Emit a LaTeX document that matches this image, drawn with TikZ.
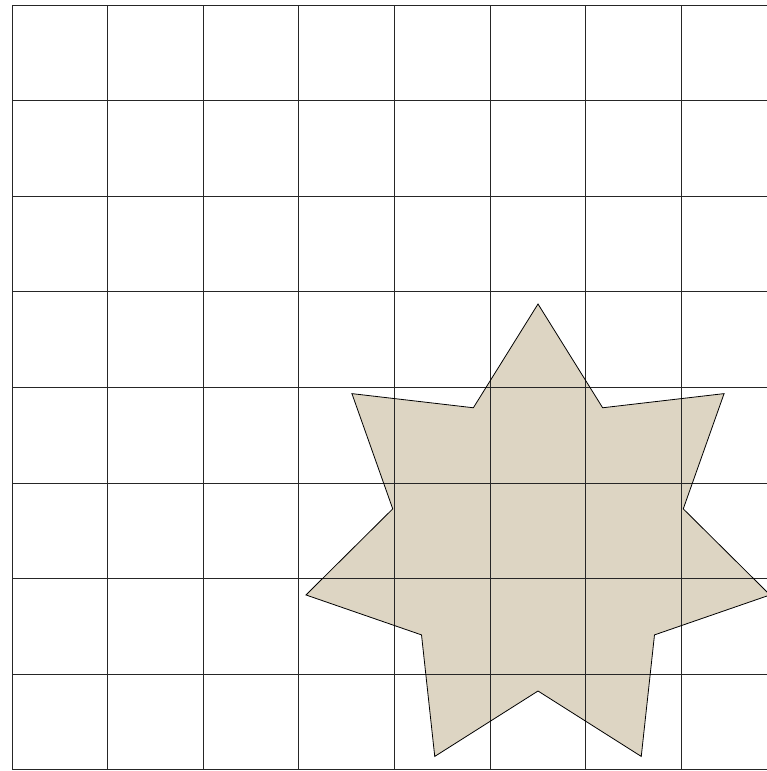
\documentclass[tikz,border=0pt]{standalone}
\definecolor{starfill}{RGB}{221,213,195}
\tikzset{gridline/.style={draw=black!85,line width=1pt},
 starshape/.style={draw=black,line width=0.8pt,line join=miter}}
\begin{document}
\begin{tikzpicture}[x=1pt,y=-1pt]
\useasboundingbox (0,0) rectangle (767,771);
\clip (0,0) rectangle (767,771);
% star fill
\begin{scope}[shift={(538,542)}]
\fill[starfill]
 \foreach \k in {0,...,6}{
   \ifnum\k=0 ({-90-360/7*\k}:238) \else -- ({-90-360/7*\k}:238) \fi
   -- ({-90-360/7*\k-180/7}:149)
 } -- cycle;
\end{scope}
% grid
\foreach \i in {0,...,8}{
  \draw[gridline] ({12+95.6*\i},5) -- ({12+95.6*\i},769.8);
  \draw[gridline] (12,{5+95.6*\i}) -- (780,{5+95.6*\i});
}
% star outline
\begin{scope}[shift={(538,542)}]
\draw[starshape]
 \foreach \k in {0,...,6}{
   \ifnum\k=0 ({-90-360/7*\k}:238) \else -- ({-90-360/7*\k}:238) \fi
   -- ({-90-360/7*\k-180/7}:149)
 } -- cycle;
\end{scope}
\end{tikzpicture}
\end{document}
